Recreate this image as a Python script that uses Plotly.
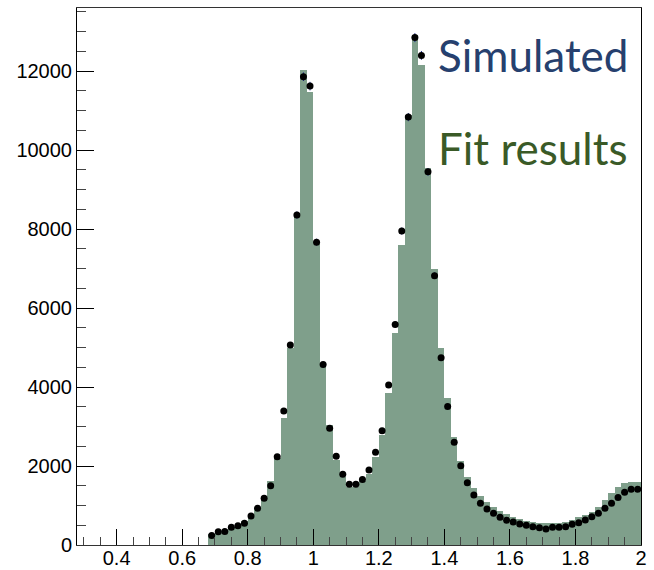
import numpy as np
import plotly.graph_objects as go

# Bin centres (bin width 0.02 GeV), from 0.69 to 1.99
bin_width = 0.02
bin_centers = [round(0.69 + 0.02 * i, 2) for i in range(66)]

# Simulated counts (points)
simulated = [
    240, 337, 340, 448, 489, 549, 734, 929, 1182, 1500,
    2236, 3393, 5064, 8356, 11860, 11622, 7670, 4570, 2954, 2245,
    1789, 1536, 1536, 1660, 1899, 2346, 2895, 4051, 5587, 7950,
    10837, 12850, 12400, 9450, 6820, 4743, 3510, 2600, 2009, 1578,
    1266, 1055, 910, 802, 705, 625, 582, 532, 498, 464,
    439, 405, 447, 447, 464, 523, 566, 633, 717, 802,
    929, 1055, 1206, 1334, 1410, 1410,
]

# Fit result (filled histogram)
fit_results = [
    290, 363, 363, 464, 532, 616, 760, 971, 1206, 1620,
    2200, 3223, 4980, 8400, 12027, 11462, 7700, 4600, 3038, 2160,
    1715, 1465, 1465, 1610, 1790, 2220, 2785, 3850, 5376, 7596,
    10888, 12913, 12154, 9538, 7000, 4979, 3714, 2743, 2135, 1730,
    1435, 1241, 1097, 971, 870, 785, 700, 650, 616, 591,
    566, 549, 549, 566, 591, 633, 700, 760, 844, 971,
    1139, 1308, 1477, 1578, 1603, 1603,
]

x_range = [0.279, 2.0]
y_range = [0, 13600]
x_tickvals = [0.4, 0.6, 0.8, 1.0, 1.2, 1.4, 1.6, 1.8, 2.0]
x_ticktext = ["0.4", "0.6", "0.8", "1", "1.2", "1.4", "1.6", "1.8", "2"]
y_tickvals = [0, 2000, 4000, 6000, 8000, 10000, 12000]
y_ticktext = ["0", "2000", "4000", "6000", "8000", "10000", "12000"]

fig = go.Figure()

fig.add_trace(go.Bar(
    x=bin_centers,
    y=fit_results,
    width=bin_width,
    marker=dict(color="#7f9f8b", line=dict(width=0)),
    name="Fit results",
    showlegend=False,
))

fig.add_trace(go.Scatter(
    x=bin_centers,
    y=simulated,
    mode="markers",
    marker=dict(color="black", size=7),
    error_y=dict(type="data", array=np.sqrt(simulated), color="#1a2a8a",
                 thickness=1, width=0),
    name="Simulated",
    showlegend=False,
))

tick_font = dict(family="Liberation Sans", size=20, color="black")

fig.update_layout(
    width=654,
    height=570,
    margin=dict(l=77, r=13, t=8, b=25),
    paper_bgcolor="white",
    plot_bgcolor="white",
    bargap=0,
    xaxis=dict(
        range=x_range,
        tickvals=x_tickvals,
        ticktext=x_ticktext,
        ticks="inside",
        ticklen=16,
        tickcolor="black",
        tickwidth=1,
        minor=dict(ticks="inside", ticklen=8, dtick=0.05, tick0=0.3,
                   tickcolor="#444", showgrid=False),
        showgrid=False,
        zeroline=False,
        showline=True,
        linecolor="#333",
        linewidth=1,
        mirror=True,
        tickfont=tick_font,
        ticklabelstandoff=-5,
        automargin=False,
    ),
    yaxis=dict(
        range=y_range,
        tickvals=y_tickvals,
        ticktext=y_ticktext,
        ticks="inside",
        ticklen=17,
        tickcolor="black",
        tickwidth=1,
        minor=dict(ticks="inside", ticklen=9, dtick=500, tick0=0,
                   tickcolor="#444", showgrid=False),
        showgrid=False,
        zeroline=False,
        showline=True,
        linecolor="black",
        linewidth=1,
        mirror=True,
        tickfont=tick_font,
        ticklabelstandoff=0,
        automargin=False,
    ),
    annotations=[
        dict(text="Simulated", xref="paper", yref="paper", x=0.636, y=0.9125,
             xanchor="left", yanchor="middle", showarrow=False,
             font=dict(family="Lato", size=44, color="#26406e")),
        dict(text="Fit results", xref="paper", yref="paper", x=0.636, y=0.739,
             xanchor="left", yanchor="middle", showarrow=False,
             font=dict(family="Lato", size=44, color="#3a5a27")),
    ],
)

fig.write_html("out.html")
